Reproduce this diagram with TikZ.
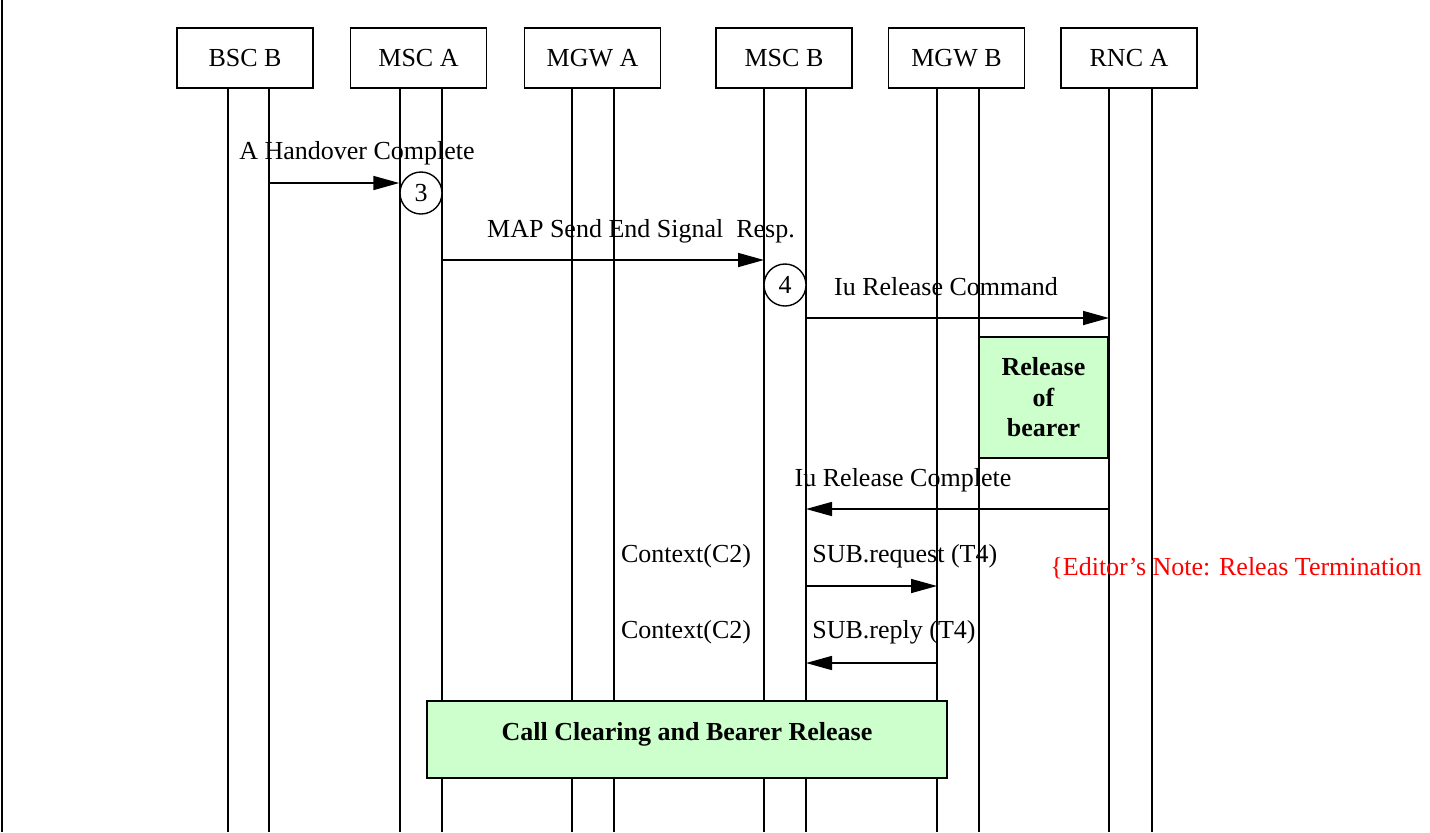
\documentclass[tikz,border=0pt]{standalone}
\usepackage{fontspec}
\setmainfont{Liberation Serif}
\usetikzlibrary{arrows.meta}
\definecolor{bearergreen}{HTML}{CCFFCC}
\tikzset{
  entity/.style={draw, line width=0.8pt, minimum width=68pt, minimum height=30pt, inner sep=0pt},
  msg/.style={line width=0.8pt, -{Triangle[length=13pt,width=7pt]}},
  marker/.style={draw, circle, line width=0.7pt, fill=white, minimum size=21pt, inner sep=0pt},
  procbox/.style={draw, line width=0.8pt, fill=bearergreen, font=\fontsize{13}{15.25}\selectfont\bfseries, align=center, inner sep=0pt},
  note/.style={text=red}
}
\begin{document}
\begin{tikzpicture}[x=0.5pt, y=-0.5pt, font=\fontsize{13}{15}\selectfont]
	\useasboundingbox (0,0) rectangle (1430,832);
	
	\draw[line width=0.8pt] (2,0) -- (2,832);
	
	% entities
	\node[entity] (bscb) at (245,58) {BSC B};
	\node[entity] (msca) at (418.5,58) {MSC A};
	\node[entity] (mgwa) at (592.5,58) {MGW A};
	\node[entity] (mscb) at (784,58) {MSC B};
	\node[entity] (mgwb) at (956.5,58) {MGW B};
	\node[entity] (rnca) at (1129,58) {RNC A};
	
	% lifelines
	\foreach \n/\x in {bscbL/228, bscbR/269, mscaL/400, mscaR/442, mgwaL/572, mgwaR/614,
		mscbL/764, mscbR/806, mgwbL/937, mgwbR/979, rncaL/1109, rncaR/1152} {
		\coordinate (\n) at (\x,88);
		\draw[line width=0.7pt] (\n) -- (\x,832);
	}
	
	% message rows
	\coordinate (m1) at (0,183);
	\coordinate (m2) at (0,260);
	\coordinate (m3) at (0,318);
	\coordinate (m4) at (0,509);
	\coordinate (m5) at (0,586);
	\coordinate (m6) at (0,663);
	
	% handover complete
	\node (hoc) at (357,153) {A Handover Complete};
	\node[marker] (three) at (421,193) {3};
	\draw[msg] (bscbR |- m1) -- (three.west |- m1);
	
	% end signal
	\node (ses) at (641,231) {MAP Send End Signal\ \ Resp.};
	\draw[msg] (mscaR |- m2) -- (mscbL |- m2);
	\node[marker] (four) at (785,285) {4};
	
	% Iu release
	\node (iurc) at (946,287) {Iu Release Command};
	\draw[msg] (mscbR |- m3) -- (rncaL |- m3);
	\node[procbox, minimum width=64.5pt, minimum height=60.5pt] (relbearer) at (1043.5,397.5) {Release\\of\\bearer};
	\node (iurcpl) at (903,480) {Iu Release Complete};
	\draw[msg] (rncaL |- m4) -- (mscbR |- m4);
	
	% subtract termination
	\node (ctx1) at (686,556) {Context(C2)};
	\node[anchor=west, inner sep=0pt] (subreq) at (812,556) {SUB.request (T4)};
	\node[note, anchor=west, inner sep=0pt] (edn) at (1050,568) {\{Editor’s Note: Releas Termination};
	\draw[msg] (mscbR |- m5) -- (mgwbL |- m5);
	\node (ctx2) at (686,632) {Context(C2)};
	\node[anchor=west, inner sep=0pt] (subrep) at (812,632) {SUB.reply (T4)};
	\draw[msg] (mgwbL |- m6) -- (mscbR |- m6);
	
	% call clearing
	\node[procbox, minimum width=260pt, minimum height=38.5pt, text depth=8.5pt] (clearing) at (687,739.5) {Call Clearing and Bearer Release};
	
\end{tikzpicture}
\end{document}
